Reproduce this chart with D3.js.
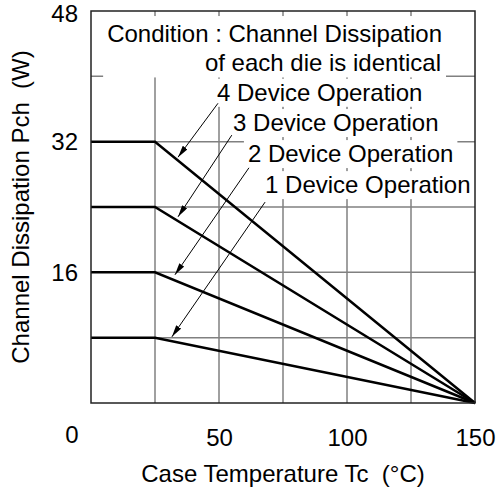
<!DOCTYPE html>
<html>
<head>
<meta charset="utf-8">
<script src="https://cdn.jsdelivr.net/npm/d3@7"></script>
<style>
  body { margin: 0; background: #fff; }
  text { font-family: "Liberation Sans", Arial, sans-serif; fill: #000; }
</style>
</head>
<body>
<div id="chart"></div>
<script>
// data
var tempPoints = [0, 25, 150];              // case temperature break points (°C)
var devices = [4, 3, 2, 1];                 // number of devices operating
var pchMax = [32, 24, 16, 8];               // flat channel dissipation (W) up to 25 °C
var xTicks = [50, 100, 150];
var yTicks = [16, 32, 48];
var xGrid = [25, 50, 75, 100, 125];
var yGrid = [8, 16, 24, 32, 40];

// annotation positions in data units
var noteLines = ["Condition : Channel Dissipation", "of each die is identical"];
var noteX = [6.3, 44.5];
var noteY = [44.2, 40.6];
var labelX = [49.2, 55.5, 61.3, 68];
var labelY = [37.0, 33.3, 29.5, 25.7];
var arrowFrom = [[49.6, 36.7], [55, 32.8], [61.7, 28.8], [68, 24.6]];
var arrowTo = [[34, 30.1], [34, 22.8], [32.8, 15.7], [31.6, 8.1]];

//setup
var svgWidth = 502;
var svgHeight = 494;
var margin = { top: 11, right: 27, bottom: 91, left: 91 };
var width = svgWidth - margin.left - margin.right;
var height = svgHeight - margin.top - margin.bottom;
var fontSize = 24;

var svg = d3.select("#chart")
  .append("svg")
  .attr("width", svgWidth)
  .attr("height", svgHeight);

svg.append("defs").append("marker")
  .attr("id", "head")
  .attr("viewBox", "0 0 12 6")
  .attr("refX", 12)
  .attr("refY", 3)
  .attr("markerWidth", 12)
  .attr("markerHeight", 6)
  .attr("markerUnits", "userSpaceOnUse")
  .attr("orient", "auto")
  .append("path")
  .attr("d", "M0,0 L12,3 L0,6 Z")
  .attr("fill", "#000");

var chartGroup = svg.append("g")
  .attr("transform", `translate(${margin.left}, ${margin.top})`);

var x = d3.scaleLinear().domain([0, 150]).range([0, width]);
var y = d3.scaleLinear().domain([0, 48]).range([height, 0]);

// grid
chartGroup.append("g").selectAll("line.v")
  .data(xGrid).enter().append("line")
  .attr("x1", d => x(d)).attr("x2", d => x(d))
  .attr("y1", 0).attr("y2", height)
  .attr("stroke", "#808080").attr("stroke-width", 1.5);
chartGroup.append("g").selectAll("line.h")
  .data(yGrid).enter().append("line")
  .attr("x1", 0).attr("x2", width)
  .attr("y1", d => y(d)).attr("y2", d => y(d))
  .attr("stroke", "#808080").attr("stroke-width", 1.5);

// text with white backgrounds over the grid
var maskGroup = chartGroup.append("g");
var textGroup = chartGroup.append("g").style("font-size", fontSize + "px");

var noteTexts = textGroup.selectAll("text.note")
  .data(noteLines).enter().append("text")
  .attr("x", (d, i) => x(noteX[i]))
  .attr("y", (d, i) => y(noteY[i]))
  .text(d => d);

var labelTexts = textGroup.selectAll("text.lab")
  .data(devices).enter().append("text")
  .attr("x", (d, i) => x(labelX[i]))
  .attr("y", (d, i) => y(labelY[i]))
  .text(d => d + " Device Operation");

var pad = 4;
// condition block as one box
var boxes = noteTexts.nodes().map(n => n.getBBox());
var bx0 = d3.min(boxes, b => b.x) - pad;
var bx1 = d3.max(boxes, b => b.x + b.width) + pad;
var by0 = d3.min(boxes, b => b.y) - pad;
var by1 = d3.max(boxes, b => b.y + b.height) + 1;
maskGroup.append("rect")
  .attr("x", bx0).attr("y", by0)
  .attr("width", bx1 - bx0).attr("height", by1 - by0)
  .attr("fill", "#fff");
labelTexts.each(function() {
  var b = this.getBBox();
  maskGroup.append("rect")
    .attr("x", b.x - pad).attr("y", b.y)
    .attr("width", b.width + 2 * pad).attr("height", b.height + 1)
    .attr("fill", "#fff");
});

// curves
var line = d3.line()
  .x(d => x(d[0]))
  .y(d => y(d[1]));
var curves = pchMax.map(p => [[tempPoints[0], p], [tempPoints[1], p], [tempPoints[2], 0]]);
chartGroup.append("g").selectAll("path")
  .data(curves).enter().append("path")
  .attr("d", line)
  .attr("fill", "none")
  .attr("stroke", "#000")
  .attr("stroke-width", 2.5);

// arrows
chartGroup.append("g").selectAll("line")
  .data(arrowFrom).enter().append("line")
  .attr("x1", d => x(d[0])).attr("y1", d => y(d[1]))
  .attr("x2", (d, i) => x(arrowTo[i][0])).attr("y2", (d, i) => y(arrowTo[i][1]))
  .attr("stroke", "#000").attr("stroke-width", 1)
  .attr("marker-end", "url(#head)");

// frame
chartGroup.append("rect")
  .attr("width", width).attr("height", height)
  .attr("fill", "none").attr("stroke", "#222").attr("stroke-width", 1.5);

// axes (labels only)
var bottomAxis = d3.axisBottom(x).tickValues(xTicks).tickSize(0).tickPadding(26);
var leftAxis = d3.axisLeft(y).tickValues(yTicks).tickSize(0).tickPadding(13);
var xAxis = chartGroup.append("g")
  .attr("transform", `translate(0, ${height})`)
  .call(bottomAxis);
var yAxis = chartGroup.append("g").call(leftAxis);
[xAxis, yAxis].forEach(function(a) {
  a.select(".domain").remove();
  a.selectAll("text")
    .style("font-size", fontSize + "px")
    .style("font-family", '"Liberation Sans", Arial, sans-serif')
    .attr("fill", "#000");
});
// keep the top label inside the page
yAxis.selectAll(".tick text").filter(d => d === 48).attr("dy", "0.42em");
// origin label sits at the corner
chartGroup.append("text")
  .attr("x", x(0) - 19)
  .attr("y", height + 40)
  .attr("text-anchor", "middle")
  .style("font-size", fontSize + "px")
  .text("0");

// axis titles
chartGroup.append("text")
  .attr("x", width / 2)
  .attr("y", height + 79)
  .attr("text-anchor", "middle")
  .style("font-size", fontSize + "px")
  .style("white-space", "pre")
  .text("Case Temperature Tc  (°C)");
chartGroup.append("text")
  .attr("transform", "rotate(-90)")
  .attr("x", -height / 2)
  .attr("y", 29 - margin.left)
  .attr("text-anchor", "middle")
  .style("font-size", fontSize + "px")
  .style("white-space", "pre")
  .text("Channel Dissipation Pch  (W)");
</script>
</body>
</html>
